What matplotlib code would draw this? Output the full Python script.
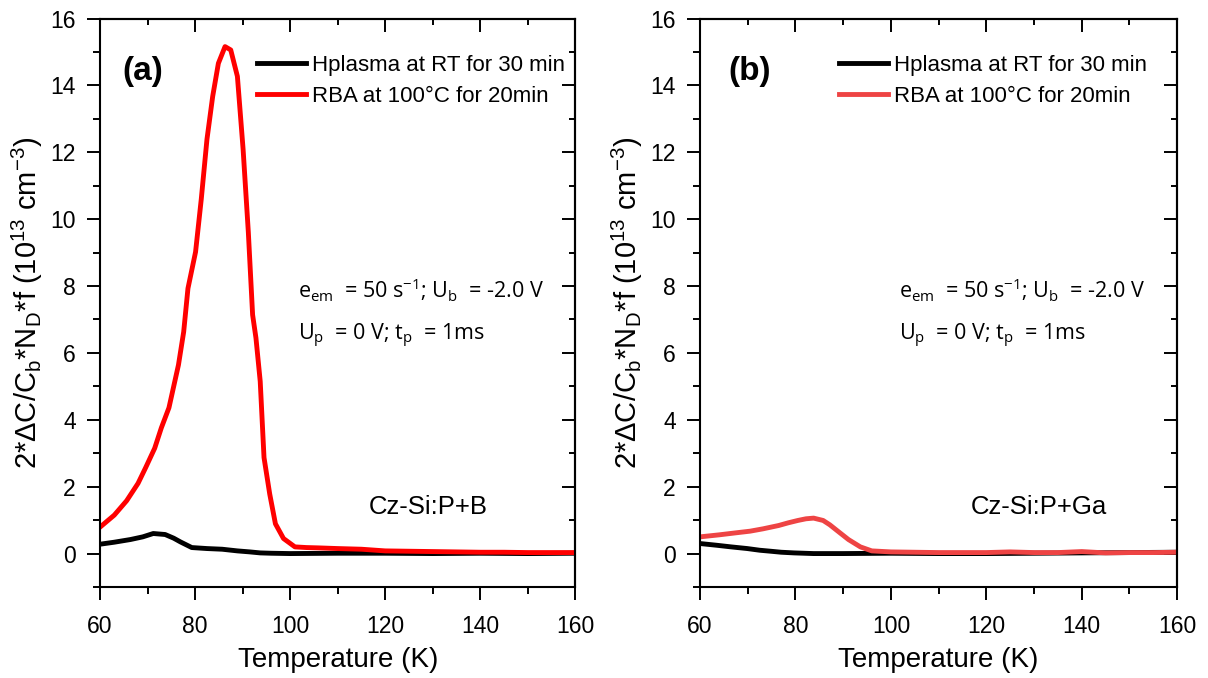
import numpy as np
import matplotlib
matplotlib.use('Agg')
from matplotlib import pyplot as plt
from matplotlib.ticker import MultipleLocator, NullFormatter

plt.rcParams['font.family'] = ['Liberation Sans', 'DejaVu Sans']
plt.rcParams['mathtext.default'] = 'regular'

# panel (a): Cz-Si:P+B
t_a_h = [60, 63, 66.4, 69, 71.2, 73.7, 75.5, 76.9, 79.3, 82.5, 85.7, 88.9, 91.5, 93.7, 96, 100, 110, 120, 130, 140, 150, 160]
y_a_h = [0.28, 0.34, 0.42, 0.5, 0.6, 0.57, 0.46, 0.35, 0.18, 0.15, 0.13, 0.08, 0.05, 0.02, 0.01, 0.0, 0.01, 0.01, 0.0, 0.01, 0.0, 0.01]
t_a_r = [60, 63, 65.6, 68, 69.6, 71.5, 72.9, 74.5, 76.5, 77.6, 78.5, 80.1, 81.3, 82.5, 83.7, 84.9, 86.3, 87.5, 88.9, 90.1, 91.2,
         92.1, 92.8, 93.7, 94.5, 95.7, 96.9, 98.6, 101, 103.4, 106, 110, 115, 120, 125, 130, 135, 140, 145, 150, 155, 160]
y_a_r = [0.79, 1.15, 1.58, 2.1, 2.57, 3.15, 3.76, 4.36, 5.64, 6.63, 7.93, 9.02, 10.6, 12.39, 13.67, 14.66, 15.16, 15.06, 14.27, 12.09, 9.61,
         7.14, 6.45, 5.15, 2.87, 1.78, 0.89, 0.45, 0.2, 0.18, 0.17, 0.15, 0.13, 0.08, 0.07, 0.06, 0.05, 0.04, 0.04, 0.03, 0.03, 0.03]

# panel (b): Cz-Si:P+Ga
t_b_h = [60, 63.4, 66.5, 69.9, 72.5, 74.8, 77, 79.7, 83.8, 90, 100, 110, 120, 130, 140, 150, 160]
y_b_h = [0.3, 0.25, 0.2, 0.15, 0.1, 0.07, 0.04, 0.02, 0.0, 0.0, 0.01, 0.0, 0.0, 0.01, 0.02, 0.03, 0.04]
t_b_r = [60, 64, 67.5, 70.5, 73.2, 76.5, 78.5, 80.5, 82.2, 83.8, 85.8, 87.2, 88.7, 91.1, 93.6, 96, 100, 110, 120, 125, 130, 135, 140, 145, 150, 155, 160]
y_b_r = [0.5, 0.56, 0.62, 0.67, 0.74, 0.84, 0.92, 0.99, 1.04, 1.06, 0.99, 0.86, 0.69, 0.42, 0.2, 0.08, 0.05, 0.03, 0.03, 0.05, 0.03, 0.03, 0.06, 0.02, 0.03, 0.03, 0.04]

labels = ['Hplasma at RT for 30 min', 'RBA at 100\u00b0C for 20min']
ylab = '2*\u0394C/C$_b$*N$_D$*f (10$^{13}$ cm$^{-3}$)'

fig = plt.figure(figsize=(12.08, 6.78), dpi=100)
ax1 = fig.add_axes([0.0828, 0.1342, 0.3935, 0.8385])
ax2 = fig.add_axes([0.5795, 0.1342, 0.3950, 0.8385])

# ax, data, red colour, tag, sample, tag x, legend x, text x, sample x
panels = [(ax1, t_a_h, y_a_h, t_a_r, y_a_r, '#ff0000', '(a)', 'Cz-Si:P+B', 0.046, 0.33, 0.417, 0.566),
          (ax2, t_b_h, y_b_h, t_b_r, y_b_r, '#ee4444', '(b)', 'Cz-Si:P+Ga', 0.059, 0.291, 0.416, 0.568)]

for ax, th, yh, tr, yr, rc, tag, sample, tx, lx, ex, sx in panels:
    ax.plot(th, yh, color='black', lw=3.5, label=labels[0])
    ax.plot(tr, yr, color=rc, lw=3.5, label=labels[1])
    ax.set_xlim(60, 160)
    ax.set_ylim(-1, 16)
    ax.xaxis.set_major_locator(MultipleLocator(20))
    ax.xaxis.set_minor_locator(MultipleLocator(10))
    ax.yaxis.set_major_locator(MultipleLocator(2))
    ax.yaxis.set_minor_locator(MultipleLocator(1))
    ax.tick_params(which='both', direction='out', width=1.4)
    ax.tick_params(which='major', length=9.5, labelsize=16.5)
    ax.tick_params(axis='x', which='major', pad=11)
    ax.tick_params(axis='y', which='major', pad=8)
    ax.tick_params(which='minor', length=5)
    for s in ax.spines.values():
        s.set_linewidth(1.5)

    # inward ticks on top and right
    top = ax.secondary_xaxis('top')
    top.xaxis.set_major_locator(MultipleLocator(20))
    top.xaxis.set_minor_locator(MultipleLocator(10))
    top.xaxis.set_major_formatter(NullFormatter())
    top.tick_params(which='both', direction='in', width=1.4)
    top.tick_params(which='major', length=9.5)
    top.tick_params(which='minor', length=4)
    right = ax.secondary_yaxis('right')
    right.yaxis.set_major_locator(MultipleLocator(2))
    right.yaxis.set_minor_locator(MultipleLocator(1))
    right.yaxis.set_major_formatter(NullFormatter())
    right.tick_params(which='both', direction='in', width=1.4)
    right.tick_params(which='major', length=9.5)
    right.tick_params(which='minor', length=4)
    for sec in (top, right):
        for s in sec.spines.values():
            s.set_linewidth(1.5)

    ax.set_xlabel('Temperature (K)', fontsize=20, labelpad=6)
    ax.set_ylabel(ylab, fontsize=21, labelpad=4)
    ax.legend(loc='upper left', bbox_to_anchor=(lx, 0.936), frameon=False, fontsize=16,
              handlelength=2.2, handletextpad=0.3, labelspacing=0.45, borderpad=0, borderaxespad=0)
    ax.text(tx, 0.906, tag, transform=ax.transAxes, fontsize=24, fontweight='bold', va='center')
    ax.text(ex, 0.508, 'e$_{em}$  = 50 s$^{-1}$; U$_b$  = -2.0 V', transform=ax.transAxes,
            family='Open Sans', fontsize=15.5, va='baseline')
    ax.text(ex, 0.4345, 'U$_p$  = 0 V; t$_p$  = 1ms', transform=ax.transAxes,
            family='Open Sans', fontsize=15.5, va='baseline')
    ax.text(sx, 0.141, sample, transform=ax.transAxes, fontsize=18.5, va='center')

fig.savefig('out.png', dpi=100)
